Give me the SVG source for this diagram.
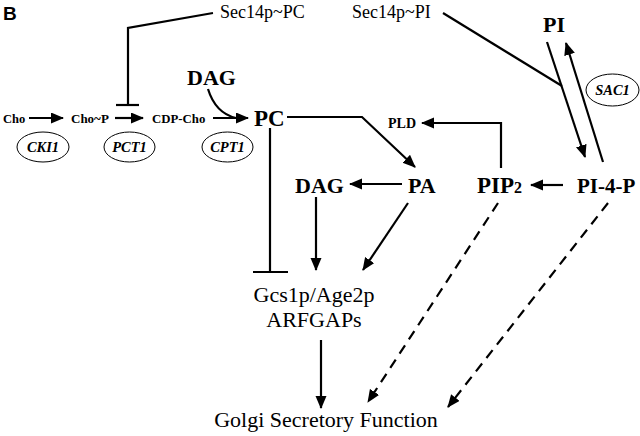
<svg xmlns="http://www.w3.org/2000/svg" width="640" height="436" viewBox="0 0 640 436">
<style>
.t{font-family:"Liberation Serif","Times New Roman",serif;fill:#000}
.b{font-weight:bold}
.bi{font-weight:bold;font-style:italic}
.ln{fill:none;stroke:#000;stroke-width:2.2}
.ar{marker-end:url(#ah)}
.ds{stroke-dasharray:10 7}
.el{fill:#fff;stroke:#000;stroke-width:1}
</style>
<defs>
<marker id="ah" markerUnits="userSpaceOnUse" markerWidth="14" markerHeight="12" refX="12" refY="5.5" orient="auto">
<path d="M0,0 L13,5.5 L0,11 z" fill="#000"/>
</marker>
</defs>
<rect width="640" height="436" fill="#fff"/>
<text x="3" y="20" font-family="Liberation Sans,Arial,sans-serif" font-weight="bold" font-size="19">B</text>

<g id="connectors">
<polyline class="ln" points="213,13 128,28 128,105"/>
<line class="ln" x1="116" y1="105" x2="139" y2="105"/>
<line class="ln ar" x1="29" y1="118" x2="63" y2="118"/>
<line class="ln ar" x1="115" y1="118" x2="143" y2="118"/>
<line class="ln ar" x1="213" y1="118" x2="248" y2="118"/>
<path class="ln" d="M208,89 C212,102 219,114 236,118"/>
<polyline class="ln ar" points="287,117 362,117 415,167"/>
<line class="ln" x1="270" y1="128" x2="270" y2="272"/>
<line class="ln" x1="253" y1="272" x2="288" y2="272"/>
<line class="ln ar" x1="402" y1="184" x2="350" y2="184"/>
<line class="ln ar" x1="316" y1="197" x2="316" y2="270"/>
<line class="ln ar" x1="408" y1="203" x2="363" y2="270"/>
<polyline class="ln ar" points="501,168 501,123 422,123"/>
<line class="ln ar" x1="563" y1="185" x2="531" y2="185"/>
<line class="ln ar" x1="547" y1="42" x2="585" y2="157"/>
<line class="ln ar" x1="603" y1="162" x2="566" y2="43"/>
<line class="ln" x1="443" y1="13" x2="562" y2="86"/>
<line class="ln ar ds" x1="498" y1="203" x2="368" y2="402"/>
<line class="ln ar ds" x1="608" y1="203" x2="448" y2="407"/>
<line class="ln ar" x1="321" y1="340" x2="321" y2="408"/>
</g>

<g id="sec14pc"><text class="t" x="220" y="18" font-size="18">Sec14p~PC</text></g>
<g id="sec14pi"><text class="t" x="352" y="18" font-size="18">Sec14p~PI</text></g>
<g id="cho"><text class="t b" x="3" y="123" font-size="12.5">Cho</text></g>
<g id="chop"><text class="t b" x="71" y="123" font-size="13">Cho~P</text></g>
<g id="cdpcho"><text class="t b" x="152" y="123" font-size="12.8">CDP-Cho</text></g>
<g id="cki1"><ellipse class="el" cx="43" cy="147" rx="26" ry="15"/><text class="t bi" x="43" y="152" font-size="14.5" text-anchor="middle">CKI1</text></g>
<g id="pct1"><ellipse class="el" cx="129.5" cy="147" rx="25.5" ry="15"/><text class="t bi" x="129.5" y="152" font-size="14.5" text-anchor="middle">PCT1</text></g>
<g id="cpt1"><ellipse class="el" cx="227.5" cy="147" rx="25.5" ry="15"/><text class="t bi" x="227.5" y="152" font-size="14.5" text-anchor="middle">CPT1</text></g>
<g id="dag1"><text class="t b" x="187" y="85" font-size="22">DAG</text></g>
<g id="pc"><text class="t b" x="254" y="126" font-size="23">PC</text></g>
<g id="pld"><text class="t b" x="388" y="128" font-size="14">PLD</text></g>
<g id="pi"><text class="t b" x="543" y="32" font-size="22">PI</text></g>
<g id="sac1"><ellipse class="el" cx="612.5" cy="90" rx="26.5" ry="16"/><text class="t bi" x="612.5" y="95" font-size="14.5" text-anchor="middle">SAC1</text></g>
<g id="dag2"><text class="t b" x="295" y="193" font-size="22">DAG</text></g>
<g id="pa"><text class="t b" x="408" y="193" font-size="22">PA</text></g>
<g id="pip2"><text class="t b" x="477" y="193" font-size="23">PIP<tspan font-size="16">2</tspan></text></g>
<g id="pi4p"><text class="t b" x="577" y="193" font-size="21">PI-4-P</text></g>
<g id="arfgaps"><text class="t" x="314" y="302" font-size="22" text-anchor="middle">Gcs1p/Age2p</text><text class="t" x="314" y="327" font-size="22" text-anchor="middle">ARFGAPs</text></g>
<g id="golgi"><text class="t" x="326" y="427" font-size="22" text-anchor="middle">Golgi Secretory Function</text></g>
</svg>
